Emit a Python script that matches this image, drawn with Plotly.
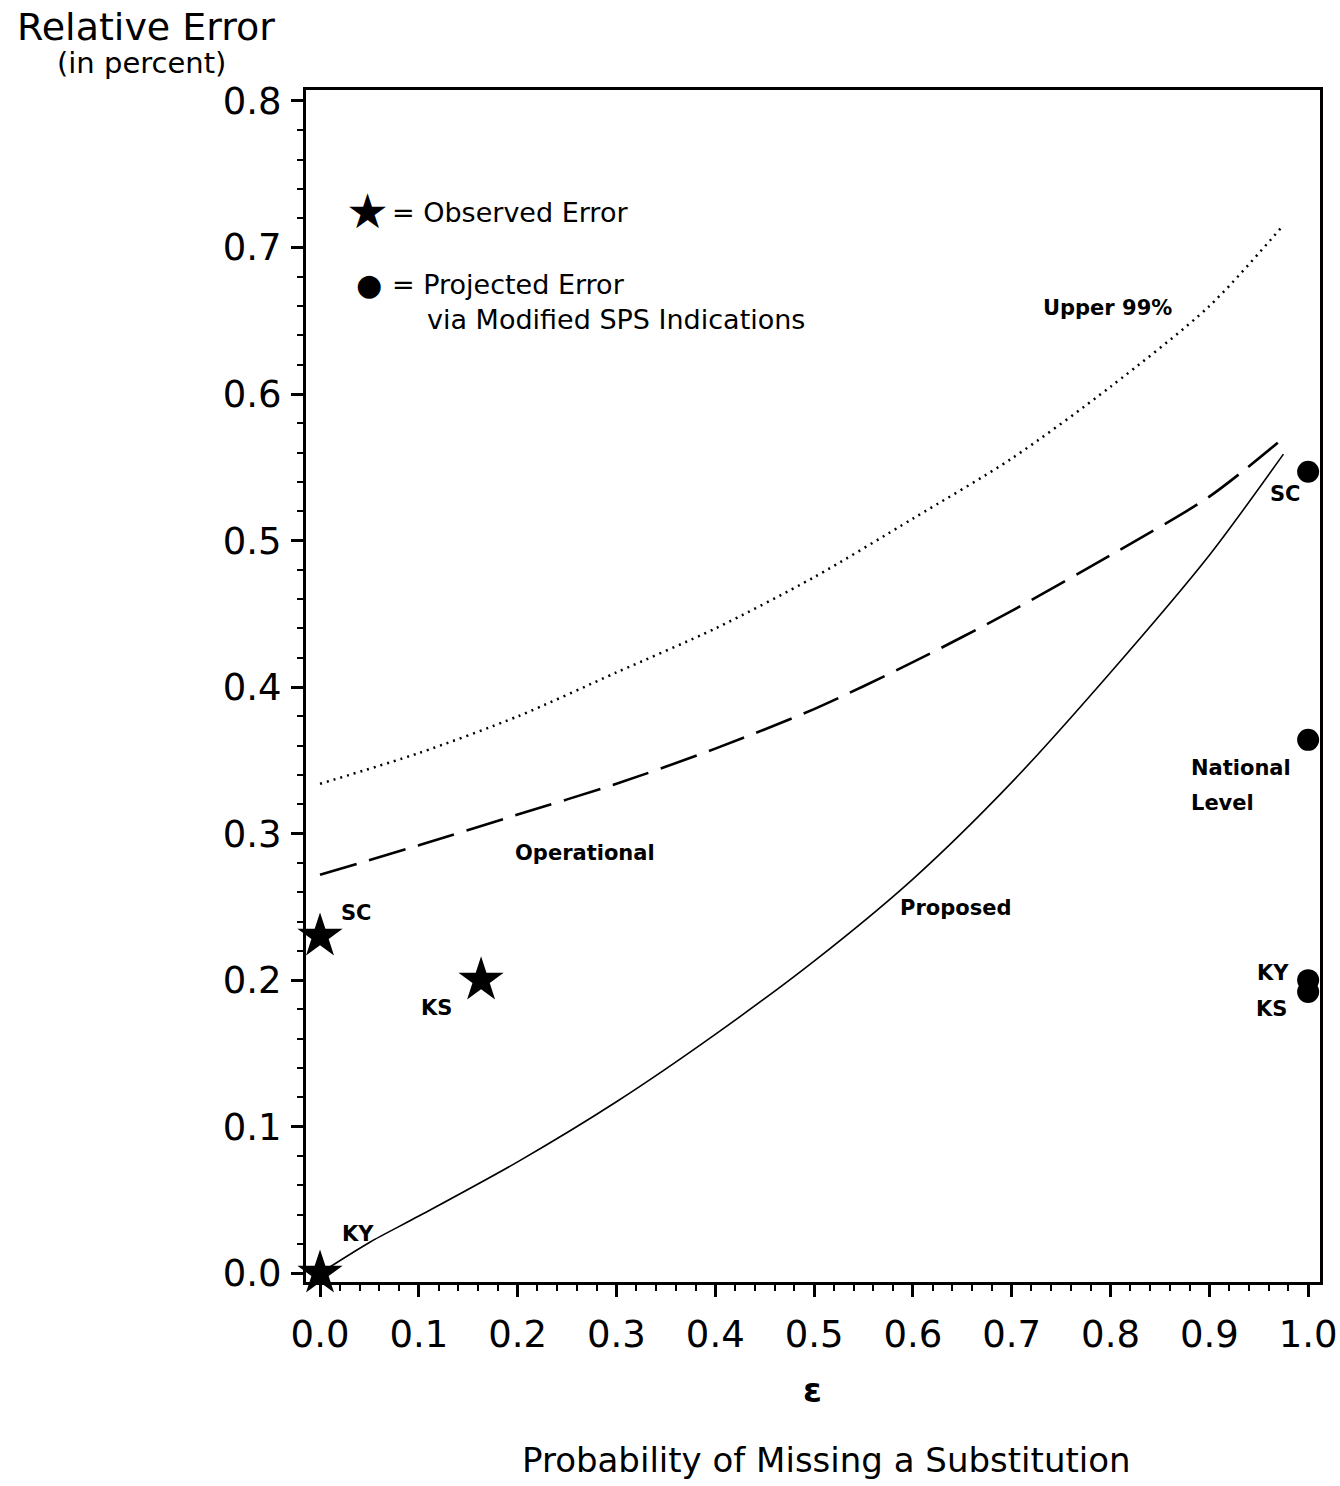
import plotly.graph_objects as go

# ---- data ----
proposed_x = [0.0, 0.05, 0.1, 0.2, 0.3, 0.4, 0.5, 0.6, 0.7, 0.8, 0.9, 0.975]
proposed_y = [0.0, 0.021, 0.039, 0.076, 0.117, 0.163, 0.213, 0.269, 0.335, 0.410, 0.490, 0.559]

operational_x = [0.0, 0.1, 0.2, 0.3, 0.4, 0.5, 0.6, 0.7, 0.8, 0.9, 0.975]
operational_y = [0.272, 0.292, 0.313, 0.334, 0.358, 0.385, 0.417, 0.452, 0.490, 0.530, 0.570]

upper_x = [0.0, 0.1, 0.2, 0.3, 0.4, 0.5, 0.6, 0.7, 0.8, 0.9, 0.972]
upper_y = [0.334, 0.355, 0.380, 0.410, 0.440, 0.475, 0.515, 0.556, 0.605, 0.660, 0.713]

observed_states = ["SC", "KS", "KY"]
observed_x = [0.0, 0.163, 0.0]
observed_y = [0.23, 0.20, 0.0]

projected_states = ["SC", "National Level", "KY", "KS"]
projected_x = [1.0, 1.0, 1.0, 1.0]
projected_y = [0.547, 0.364, 0.200, 0.192]

xticks = [0.0, 0.1, 0.2, 0.3, 0.4, 0.5, 0.6, 0.7, 0.8, 0.9, 1.0]
yticks = [0.0, 0.1, 0.2, 0.3, 0.4, 0.5, 0.6, 0.7, 0.8]

FONT = "DejaVu Sans"
fig = go.Figure()

fig.add_trace(go.Scatter(x=upper_x, y=upper_y, mode="lines",
                         line=dict(color="black", width=2.5, dash="2px,5px", shape="spline", smoothing=0.8),
                         showlegend=False))
fig.add_trace(go.Scatter(x=operational_x, y=operational_y, mode="lines",
                         line=dict(color="black", width=2.6, dash="38px,13px", shape="spline", smoothing=0.8),
                         showlegend=False))
fig.add_trace(go.Scatter(x=proposed_x, y=proposed_y, mode="lines",
                         line=dict(color="black", width=1.6, shape="spline", smoothing=0.8),
                         showlegend=False))
fig.add_trace(go.Scatter(x=observed_x, y=observed_y, mode="markers",
                         marker=dict(symbol="star", size=34, color="black"),
                         cliponaxis=False, showlegend=False))
fig.add_trace(go.Scatter(x=projected_x, y=projected_y, mode="markers",
                         marker=dict(symbol="circle", size=22, color="black"),
                         cliponaxis=False, showlegend=False))

ann = []
def label(x, y, text, size=21, xanchor="center", xref="x", yref="y", weight="bold"):
    ann.append(dict(x=x, y=y, xref=xref, yref=yref, text=text, showarrow=False,
                    xanchor=xanchor, yanchor="middle",
                    font=dict(family=FONT, size=size, color="black", weight=weight)))

# in-plot labels (data coordinates)
label(0.037, 0.246, "SC")
label(0.118, 0.181, "KS")
label(0.038, 0.027, "KY")
label(0.268, 0.287, "Operational")
label(0.643, 0.249, "Proposed")
label(0.797, 0.659, "Upper 99%")
label(0.977, 0.532, "SC")
label(0.879, 0.345, "National", xanchor="left")
label(0.879, 0.321, "Level", xanchor="left")
label(0.964, 0.205, "KY")
label(0.963, 0.180, "KS")

# legend text block
label(0.048, 0.725, "\u2605", size=48, weight="normal")
label(0.071, 0.724, "= Observed Error", size=27, xanchor="left", weight="normal")
label(0.050, 0.675, "\u25CF", size=30, weight="normal")
label(0.071, 0.675, "= Projected Error", size=27, xanchor="left", weight="normal")
label(0.106, 0.651, "via Modified SPS Indications", size=27, xanchor="left", weight="normal")

# outside titles (paper coordinates: plot domain spans page x 306..1320, y 90..1282)
def px(xp):
    return (xp - 306) / 1014.0
def py(yp):
    return (1282 - yp) / 1192.0

label(px(146), py(27), "Relative Error", size=38, xref="paper", yref="paper", weight="normal")
label(px(141), py(63), "(in percent)", size=29, xref="paper", yref="paper", weight="normal")
label(px(812), py(1390), "\u03b5", size=34, xref="paper", yref="paper", weight="bold")
label(px(826), py(1460), "Probability of Missing a Substitution", size=34, xref="paper", yref="paper", weight="normal")

fig.update_layout(
    width=1340, height=1486,
    margin=dict(l=306, r=20, t=90, b=204, autoexpand=False),
    paper_bgcolor="white", plot_bgcolor="white",
    annotations=ann,
    showlegend=False,
    font=dict(family=FONT, color="black"),
)

fig.update_xaxes(range=[-0.0142, 1.012], tickvals=xticks,
                 ticktext=[f"{v:.1f}" for v in xticks],
                 ticks="outside", ticklen=12, tickwidth=2.5, tickcolor="black",
                 ticklabelstandoff=6,
                 minor=dict(dtick=0.02, tick0=0, ticks="outside", ticklen=6, tickwidth=2, tickcolor="black"),
                 showline=True, linecolor="black", linewidth=3, mirror=True,
                 showgrid=False, zeroline=False,
                 tickfont=dict(family=FONT, size=37, color="black"))
fig.update_yaxes(range=[-0.006, 0.8075], tickvals=yticks,
                 ticktext=[f"{v:.1f}" for v in yticks],
                 ticks="outside", ticklen=12, tickwidth=2.5, tickcolor="black",
                 ticklabelstandoff=2,
                 minor=dict(dtick=0.02, tick0=0, ticks="outside", ticklen=6, tickwidth=2, tickcolor="black"),
                 showline=True, linecolor="black", linewidth=3, mirror=True,
                 showgrid=False, zeroline=False,
                 tickfont=dict(family=FONT, size=37, color="black"))

# remove the default page margin so the 1340x1486 figure fills the window exactly
fig.write_html("out.html",
               config={"displayModeBar": False},
               post_script="document.body.style.margin='0px';document.body.style.overflow='hidden';")
